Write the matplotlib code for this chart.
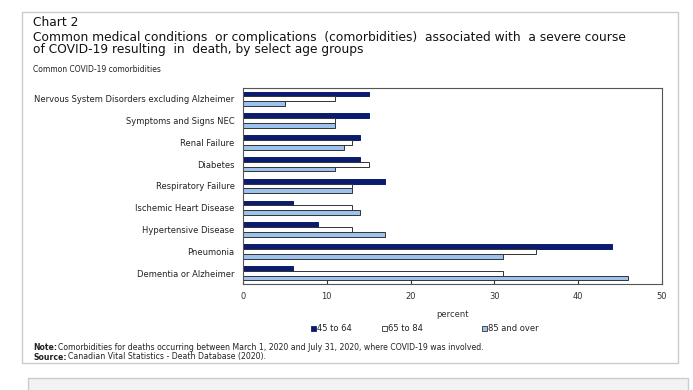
import matplotlib
matplotlib.use("Agg")
import matplotlib.pyplot as plt
from matplotlib.patches import Rectangle
import numpy as np

categories = ["Nervous System Disorders excluding Alzheimer", "Symptoms and Signs NEC",
              "Renal Failure", "Diabetes", "Respiratory Failure", "Ischemic Heart Disease",
              "Hypertensive Disease", "Pneumonia", "Dementia or Alzheimer"]
age_45_64 = [15, 15, 14, 14, 17, 6, 9, 44, 6]
age_65_84 = [11, 11, 13, 15, 13, 13, 13, 35, 31]
age_85_up = [5, 11, 12, 11, 13, 14, 17, 31, 46]
series_names = ["45 to 64", "65 to 84", "85 and over"]
xticks = [0, 10, 20, 30, 40, 50]

W, H = 693, 390
fig = plt.figure(figsize=(W/100, H/100), dpi=100)
fig.patch.set_facecolor("white")
plt.rcParams['font.family'] = ['DejaVu Sans']

def fx(px): return px / W
def fy(py): return 1 - py / H

# outer panel border
fig.patches.append(Rectangle((fx(22), fy(363)), fx(678) - fx(22), fy(12) - fy(363),
                             transform=fig.transFigure, fill=False, edgecolor="#cccccc", lw=1))
fig.patches.append(Rectangle((fx(28), fy(395)), fx(688) - fx(28), fy(378) - fy(395),
                             transform=fig.transFigure, facecolor="#f2f2f2", edgecolor="#cccccc", lw=1))

left, right, top, bottom = 243, 662, 88, 284
ax = fig.add_axes([fx(left), fy(bottom), fx(right) - fx(left), fy(top) - fy(bottom)])

n = len(categories)
y = np.arange(n)
h = 0.22
colors = ["#0b1b6e", "#ffffff", "#9cc3ee"]
edges = ["#0b1b6e", "#333333", "#333333"]
for i, (vals, c, e) in enumerate(zip([age_45_64, age_65_84, age_85_up], colors, edges)):
    ax.barh(y + (i - 1) * h, vals, height=h, color=c, edgecolor=e, linewidth=0.7)

ax.set_ylim(n - 0.5, -0.5)
ax.set_xlim(0, 50)
ax.set_xticks(xticks)
ax.set_xticklabels([str(t) for t in xticks], fontsize=6, color="#333333")
ax.tick_params(axis="x", direction="in", length=3, pad=6, color="#333333")
ax.set_yticks(y)
ax.set_yticklabels(categories, fontsize=6, color="#222222")
ax.tick_params(axis="y", length=0, pad=6)
for s in ax.spines.values():
    s.set_color("#555555")
    s.set_linewidth(0.8)
ax.set_xlabel("percent", fontsize=6, color="#333333", labelpad=6)

# titles
tfs = 8.8
fig.text(fx(33), fy(22), "Chart 2", fontsize=tfs, va="center", ha="left", color="#111111")
fig.text(fx(33), fy(37), "Common medical conditions  or complications  (comorbidities)  associated with  a severe course",
         fontsize=tfs, va="center", ha="left", color="#111111")
fig.text(fx(33), fy(49), "of COVID-19 resulting  in  death, by select age groups",
         fontsize=tfs, va="center", ha="left", color="#111111")
fig.text(fx(33), fy(70), "Common COVID-19 comorbidities", fontsize=5.5, va="center", ha="left", color="#222222")

# legend
leg_x = [311, 382, 482]
for lx, name, c, e in zip(leg_x, series_names, colors, edges):
    fig.patches.append(Rectangle((fx(lx), fy(331)), fx(5), fy(326) - fy(331),
                                 transform=fig.transFigure, facecolor=c, edgecolor=e, lw=0.6))
    fig.text(fx(lx + 6), fy(328.5), name, fontsize=6, va="center", ha="left", color="#222222")

# notes
renderer = fig.canvas.get_renderer()
for py, bold, rest in [(347, "Note:", " Comorbidities for deaths occurring between March 1, 2020 and July 31, 2020, where COVID-19 was involved."),
                       (357, "Source:", " Canadian Vital Statistics - Death Database (2020).")]:
    t = fig.text(fx(33), fy(py), bold, fontsize=5.6, fontweight="bold", va="center", ha="left", color="#222222")
    bb = t.get_window_extent(renderer=renderer)
    fig.text(bb.x1 / W + fx(1), fy(py), rest.strip(), fontsize=5.6, va="center", ha="left", color="#222222")

fig.savefig("out.png", dpi=100)
